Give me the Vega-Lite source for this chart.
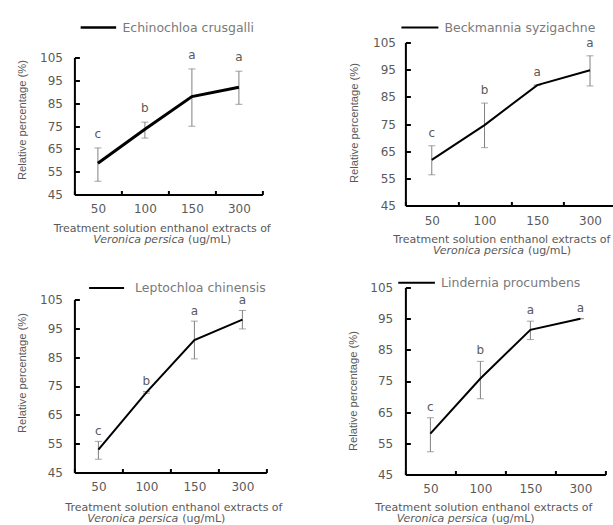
{
  "$schema": "https://vega.github.io/schema/vega-lite/v6.json",
  "autosize": {"type": "pad"},
  "padding": {"left": 15.4, "top": 7.5, "right": 0, "bottom": 0},
  "background": "white",
  "config": {
    "view": {"stroke": null},
    "axis": {"domainColor": "#000000", "domainWidth": 2, "tickColor": "#000000", "tickWidth": 2, "labelColor": "#595959", "labelFont": "DejaVu Sans", "labelFontSize": 12, "titleColor": "#595959", "titleFont": "DejaVu Sans", "titleFontSize": 11, "titleFontWeight": "normal", "grid": false},
    "legend": {"padding": 0, "labelFont": "DejaVu Sans", "labelFontSize": 12.5, "labelColor": "#7a7a7a", "symbolType": "stroke", "orient": "none"},
    "text": {"font": "DejaVu Sans", "fontSize": 12, "color": "#595959", "baseline": "middle"}
  },
  "resolve": {"scale": {"color": "independent"}},
  "datasets": {
    "d": [
      {"sp": "Echinochloa crusgalli", "conc": "50", "v": 58.7, "lo": 50.8, "hi": 65.4, "lab": "c"},
      {"sp": "Echinochloa crusgalli", "conc": "100", "v": 73.6, "lo": 69.7, "hi": 76.7, "lab": "b"},
      {"sp": "Echinochloa crusgalli", "conc": "150", "v": 87.9, "lo": 74.9, "hi": 100, "lab": "a"},
      {"sp": "Echinochloa crusgalli", "conc": "300", "v": 92, "lo": 84.5, "hi": 99, "lab": "a"},
      {"sp": "Beckmannia syzigachne", "conc": "50", "v": 61.8, "lo": 56.3, "hi": 67.0, "lab": "c"},
      {"sp": "Beckmannia syzigachne", "conc": "100", "v": 74.6, "lo": 66.3, "hi": 82.7, "lab": "b"},
      {"sp": "Beckmannia syzigachne", "conc": "150", "v": 89.3, "lo": 89.3, "hi": 89.3, "lab": "a"},
      {"sp": "Beckmannia syzigachne", "conc": "300", "v": 94.8, "lo": 89.0, "hi": 100.1, "lab": "a"},
      {"sp": "Leptochloa chinensis", "conc": "50", "v": 52.9, "lo": 49.6, "hi": 55.8, "lab": "c"},
      {"sp": "Leptochloa chinensis", "conc": "100", "v": 72.8, "lo": 72.5, "hi": 73.1, "lab": "b"},
      {"sp": "Leptochloa chinensis", "conc": "150", "v": 90.9, "lo": 84.4, "hi": 97.5, "lab": "a"},
      {"sp": "Leptochloa chinensis", "conc": "300", "v": 98.0, "lo": 94.8, "hi": 101.2, "lab": "a"},
      {"sp": "Lindernia procumbens", "conc": "50", "v": 58.1, "lo": 52.3, "hi": 63.2, "lab": "c"},
      {"sp": "Lindernia procumbens", "conc": "100", "v": 75.8, "lo": 69.3, "hi": 81.3, "lab": "b"},
      {"sp": "Lindernia procumbens", "conc": "150", "v": 91.4, "lo": 88.3, "hi": 94.2, "lab": "a"},
      {"sp": "Lindernia procumbens", "conc": "300", "v": 95.0, "lo": 95.0, "hi": 95.0, "lab": "a"}
    ]
  },
  "concat": [
    {"width": 0, "height": 0, "data": {"values": []}, "mark": "point"},
    {
      "width": 188, "height": 152,
      "data": {"name": "d"},
      "transform": [{"filter": "datum.sp === 'Echinochloa crusgalli'"}],
      "resolve": {"axis": {"x": "independent"}},
      "layer": [
        {"mark": {"type": "rule", "color": "#7f7f7f", "strokeWidth": 1},
         "encoding": {
           "x": {"field": "conc", "type": "ordinal", "sort": null, "scale": {"type": "band", "domain": ["50", "100", "150", "300"], "paddingInner": 0, "paddingOuter": 0}, "axis": {"orient": "bottom", "domain": false, "ticks": false, "labels": false, "title": "Veronica persica", "titleFontStyle": "italic", "titleAlign": "right", "titleBaseline": "middle", "titleAngle": 0, "titleX": 109.3, "titleY": 45}},
           "y": {"field": "lo", "type": "quantitative", "scale": {"domain": [45, 105], "range": [152, 15], "nice": false, "zero": false}, "axis": {"values": [45, 55, 65, 75, 85, 95, 105], "tickSize": -5, "labelPadding": 17, "title": "Relative percentage (%)", "titleFont": "Liberation Sans", "titleFontSize": 11.2, "titleAngle": 270, "titleAlign": "center", "titleBaseline": "middle", "titleX": -52.2, "titleY": 77}},
           "y2": {"field": "hi"}}},
        {"mark": {"type": "tick", "color": "#7f7f7f", "size": 7, "thickness": 1},
         "encoding": {
           "x": {"field": "conc", "type": "ordinal", "sort": null, "scale": {"type": "band", "domain": ["50", "100", "150", "300"], "paddingInner": 0, "paddingOuter": 0}, "axis": null},
           "y": {"field": "lo", "type": "quantitative", "scale": {"domain": [45, 105], "range": [152, 15], "nice": false, "zero": false}, "axis": {"values": [45, 55, 65, 75, 85, 95, 105], "tickSize": -5, "labelPadding": 17, "title": "Relative percentage (%)", "titleFont": "Liberation Sans", "titleFontSize": 11.2, "titleAngle": 270, "titleAlign": "center", "titleBaseline": "middle", "titleX": -52.2, "titleY": 77}}}},
        {"mark": {"type": "tick", "color": "#7f7f7f", "size": 7, "thickness": 1},
         "encoding": {
           "x": {"field": "conc", "type": "ordinal", "sort": null, "scale": {"type": "band", "domain": ["50", "100", "150", "300"], "paddingInner": 0, "paddingOuter": 0}, "axis": null},
           "y": {"field": "hi", "type": "quantitative", "scale": {"domain": [45, 105], "range": [152, 15], "nice": false, "zero": false}, "axis": {"values": [45, 55, 65, 75, 85, 95, 105], "tickSize": -5, "labelPadding": 17, "title": "Relative percentage (%)", "titleFont": "Liberation Sans", "titleFontSize": 11.2, "titleAngle": 270, "titleAlign": "center", "titleBaseline": "middle", "titleX": -52.2, "titleY": 77}}}},
        {"mark": {"type": "line", "strokeWidth": 3},
         "encoding": {
           "x": {"field": "conc", "type": "ordinal", "sort": null, "scale": {"type": "band", "domain": ["50", "100", "150", "300"], "paddingInner": 0, "paddingOuter": 0}, "axis": {"orient": "bottom", "labelAngle": 0, "tickBand": "extent", "tickSize": -4, "labelPadding": 18, "labelBaseline": "middle", "title": "Treatment solution enthanol extracts of", "titleAlign": "center", "titleBaseline": "middle", "titleAngle": 0, "titleX": 87.3, "titleY": 34}},
           "y": {"field": "v", "type": "quantitative", "scale": {"domain": [45, 105], "range": [152, 15], "nice": false, "zero": false}, "axis": {"values": [45, 55, 65, 75, 85, 95, 105], "tickSize": -5, "labelPadding": 17, "title": "Relative percentage (%)", "titleFont": "Liberation Sans", "titleFontSize": 11.2, "titleAngle": 270, "titleAlign": "center", "titleBaseline": "middle", "titleX": -52.2, "titleY": 77}},
           "color": {"field": "sp", "type": "nominal", "scale": {"range": ["#000000"]}, "legend": {"title": null, "symbolSize": 1260, "symbolStrokeWidth": 2.5, "labelOffset": 5, "legendX": 5, "legendY": -34}}}},
        {"mark": {"type": "text", "dy": -14},
         "encoding": {
           "x": {"field": "conc", "type": "ordinal", "sort": null, "scale": {"type": "band", "domain": ["50", "100", "150", "300"], "paddingInner": 0, "paddingOuter": 0}, "axis": {"orient": "bottom", "domain": false, "ticks": false, "labels": false, "title": "(ug/mL)", "titleAlign": "left", "titleBaseline": "middle", "titleAngle": 0, "titleX": 113, "titleY": 45}},
           "y": {"field": "hi", "type": "quantitative", "scale": {"domain": [45, 105], "range": [152, 15], "nice": false, "zero": false}, "axis": {"values": [45, 55, 65, 75, 85, 95, 105], "tickSize": -5, "labelPadding": 17, "title": "Relative percentage (%)", "titleFont": "Liberation Sans", "titleFontSize": 11.2, "titleAngle": 270, "titleAlign": "center", "titleBaseline": "middle", "titleX": -52.2, "titleY": 77}},
           "text": {"field": "lab"}}}
      ]
    },
    {"width": 139, "height": 0, "data": {"values": []}, "mark": "point"},
    {
      "width": 211, "height": 163,
      "data": {"name": "d"},
      "transform": [{"filter": "datum.sp === 'Beckmannia syzigachne'"}],
      "resolve": {"axis": {"x": "independent"}},
      "layer": [
        {"mark": {"type": "rule", "color": "#7f7f7f", "strokeWidth": 1},
         "encoding": {
           "x": {"field": "conc", "type": "ordinal", "sort": null, "scale": {"type": "band", "domain": ["50", "100", "150", "300"], "paddingInner": 0, "paddingOuter": 0}, "axis": {"orient": "bottom", "domain": false, "ticks": false, "labels": false, "title": "Veronica persica", "titleFontStyle": "italic", "titleAlign": "right", "titleBaseline": "middle", "titleAngle": 0, "titleX": 118, "titleY": 45.3}},
           "y": {"field": "lo", "type": "quantitative", "scale": {"domain": [45, 105], "nice": false, "zero": false}, "axis": {"values": [45, 55, 65, 75, 85, 95, 105], "tickSize": -5, "labelPadding": 15, "title": "Relative percentage (%)", "titleFont": "Liberation Sans", "titleFontSize": 11.2, "titleAngle": 270, "titleAlign": "center", "titleBaseline": "middle", "titleX": -51, "titleY": 80}},
           "y2": {"field": "hi"}}},
        {"mark": {"type": "tick", "color": "#7f7f7f", "size": 7, "thickness": 1},
         "encoding": {
           "x": {"field": "conc", "type": "ordinal", "sort": null, "scale": {"type": "band", "domain": ["50", "100", "150", "300"], "paddingInner": 0, "paddingOuter": 0}, "axis": null},
           "y": {"field": "lo", "type": "quantitative", "scale": {"domain": [45, 105], "nice": false, "zero": false}, "axis": {"values": [45, 55, 65, 75, 85, 95, 105], "tickSize": -5, "labelPadding": 15, "title": "Relative percentage (%)", "titleFont": "Liberation Sans", "titleFontSize": 11.2, "titleAngle": 270, "titleAlign": "center", "titleBaseline": "middle", "titleX": -51, "titleY": 80}}}},
        {"mark": {"type": "tick", "color": "#7f7f7f", "size": 7, "thickness": 1},
         "encoding": {
           "x": {"field": "conc", "type": "ordinal", "sort": null, "scale": {"type": "band", "domain": ["50", "100", "150", "300"], "paddingInner": 0, "paddingOuter": 0}, "axis": null},
           "y": {"field": "hi", "type": "quantitative", "scale": {"domain": [45, 105], "nice": false, "zero": false}, "axis": {"values": [45, 55, 65, 75, 85, 95, 105], "tickSize": -5, "labelPadding": 15, "title": "Relative percentage (%)", "titleFont": "Liberation Sans", "titleFontSize": 11.2, "titleAngle": 270, "titleAlign": "center", "titleBaseline": "middle", "titleX": -51, "titleY": 80}}}},
        {"mark": {"type": "line", "strokeWidth": 2},
         "encoding": {
           "x": {"field": "conc", "type": "ordinal", "sort": null, "scale": {"type": "band", "domain": ["50", "100", "150", "300"], "paddingInner": 0, "paddingOuter": 0}, "axis": {"orient": "bottom", "labelAngle": 0, "tickBand": "extent", "tickSize": -4, "labelPadding": 19, "labelBaseline": "middle", "title": "Treatment solution enthanol extracts of", "titleAlign": "center", "titleBaseline": "middle", "titleAngle": 0, "titleX": 96, "titleY": 34.3}},
           "y": {"field": "v", "type": "quantitative", "scale": {"domain": [45, 105], "nice": false, "zero": false}, "axis": {"values": [45, 55, 65, 75, 85, 95, 105], "tickSize": -5, "labelPadding": 15, "title": "Relative percentage (%)", "titleFont": "Liberation Sans", "titleFontSize": 11.2, "titleAngle": 270, "titleAlign": "center", "titleBaseline": "middle", "titleX": -51, "titleY": 80}},
           "color": {"field": "sp", "type": "nominal", "scale": {"range": ["#000000"]}, "legend": {"title": null, "symbolSize": 1369, "symbolStrokeWidth": 2, "labelOffset": 5, "legendX": -5, "legendY": -34.5}}}},
        {"mark": {"type": "text", "dy": -13},
         "encoding": {
           "x": {"field": "conc", "type": "ordinal", "sort": null, "scale": {"type": "band", "domain": ["50", "100", "150", "300"], "paddingInner": 0, "paddingOuter": 0}, "axis": {"orient": "bottom", "domain": false, "ticks": false, "labels": false, "title": "(ug/mL)", "titleAlign": "left", "titleBaseline": "middle", "titleAngle": 0, "titleX": 122, "titleY": 45.3}},
           "y": {"field": "hi", "type": "quantitative", "scale": {"domain": [45, 105], "nice": false, "zero": false}, "axis": {"values": [45, 55, 65, 75, 85, 95, 105], "tickSize": -5, "labelPadding": 15, "title": "Relative percentage (%)", "titleFont": "Liberation Sans", "titleFontSize": 11.2, "titleAngle": 270, "titleAlign": "center", "titleBaseline": "middle", "titleX": -51, "titleY": 80}},
           "text": {"field": "lab"}}}
      ]
    },

    {"width": 16, "height": 0, "data": {"values": []}, "mark": "point"},
    {
      "width": 192, "height": 185,
      "data": {"name": "d"},
      "transform": [{"filter": "datum.sp === 'Leptochloa chinensis'"}],
      "resolve": {"axis": {"x": "independent"}},
      "layer": [
        {"mark": {"type": "rule", "color": "#7f7f7f", "strokeWidth": 1},
         "encoding": {
           "x": {"field": "conc", "type": "ordinal", "sort": null, "scale": {"type": "band", "domain": ["50", "100", "150", "300"], "paddingInner": 0, "paddingOuter": 0}, "axis": {"orient": "bottom", "domain": false, "ticks": false, "labels": false, "title": "Veronica persica", "titleFontStyle": "italic", "titleAlign": "right", "titleBaseline": "middle", "titleAngle": 0, "titleX": 103.4, "titleY": 46.3}},
           "y": {"field": "lo", "type": "quantitative", "scale": {"domain": [45, 105], "range": [185, 12], "nice": false, "zero": false}, "axis": {"values": [45, 55, 65, 75, 85, 95, 105], "tickSize": -5, "labelPadding": 17, "title": "Relative percentage (%)", "titleFont": "Liberation Sans", "titleFontSize": 11.2, "titleAngle": 270, "titleAlign": "center", "titleBaseline": "middle", "titleX": -52, "titleY": 85}},
           "y2": {"field": "hi"}}},
        {"mark": {"type": "tick", "color": "#7f7f7f", "size": 7, "thickness": 1},
         "encoding": {
           "x": {"field": "conc", "type": "ordinal", "sort": null, "scale": {"type": "band", "domain": ["50", "100", "150", "300"], "paddingInner": 0, "paddingOuter": 0}, "axis": null},
           "y": {"field": "lo", "type": "quantitative", "scale": {"domain": [45, 105], "range": [185, 12], "nice": false, "zero": false}, "axis": {"values": [45, 55, 65, 75, 85, 95, 105], "tickSize": -5, "labelPadding": 17, "title": "Relative percentage (%)", "titleFont": "Liberation Sans", "titleFontSize": 11.2, "titleAngle": 270, "titleAlign": "center", "titleBaseline": "middle", "titleX": -52, "titleY": 85}}}},
        {"mark": {"type": "tick", "color": "#7f7f7f", "size": 7, "thickness": 1},
         "encoding": {
           "x": {"field": "conc", "type": "ordinal", "sort": null, "scale": {"type": "band", "domain": ["50", "100", "150", "300"], "paddingInner": 0, "paddingOuter": 0}, "axis": null},
           "y": {"field": "hi", "type": "quantitative", "scale": {"domain": [45, 105], "range": [185, 12], "nice": false, "zero": false}, "axis": {"values": [45, 55, 65, 75, 85, 95, 105], "tickSize": -5, "labelPadding": 17, "title": "Relative percentage (%)", "titleFont": "Liberation Sans", "titleFontSize": 11.2, "titleAngle": 270, "titleAlign": "center", "titleBaseline": "middle", "titleX": -52, "titleY": 85}}}},
        {"mark": {"type": "line", "strokeWidth": 2},
         "encoding": {
           "x": {"field": "conc", "type": "ordinal", "sort": null, "scale": {"type": "band", "domain": ["50", "100", "150", "300"], "paddingInner": 0, "paddingOuter": 0}, "axis": {"orient": "bottom", "labelAngle": 0, "tickBand": "extent", "tickSize": -4, "labelPadding": 18, "labelBaseline": "middle", "title": "Treatment solution enthanol extracts of", "titleAlign": "center", "titleBaseline": "middle", "titleAngle": 0, "titleX": 99, "titleY": 35.3}},
           "y": {"field": "v", "type": "quantitative", "scale": {"domain": [45, 105], "range": [185, 12], "nice": false, "zero": false}, "axis": {"values": [45, 55, 65, 75, 85, 95, 105], "tickSize": -5, "labelPadding": 17, "title": "Relative percentage (%)", "titleFont": "Liberation Sans", "titleFontSize": 11.2, "titleAngle": 270, "titleAlign": "center", "titleBaseline": "middle", "titleX": -52, "titleY": 85}},
           "color": {"field": "sp", "type": "nominal", "scale": {"range": ["#000000"]}, "legend": {"title": null, "symbolSize": 1225, "symbolStrokeWidth": 2, "labelOffset": 10, "legendX": 13.7, "legendY": -17.9}}}},
        {"mark": {"type": "text", "dy": -10},
         "encoding": {
           "x": {"field": "conc", "type": "ordinal", "sort": null, "scale": {"type": "band", "domain": ["50", "100", "150", "300"], "paddingInner": 0, "paddingOuter": 0}, "axis": {"orient": "bottom", "domain": false, "ticks": false, "labels": false, "title": "(ug/mL)", "titleAlign": "left", "titleBaseline": "middle", "titleAngle": 0, "titleX": 107.4, "titleY": 46.3}},
           "y": {"field": "hi", "type": "quantitative", "scale": {"domain": [45, 105], "range": [185, 12], "nice": false, "zero": false}, "axis": {"values": [45, 55, 65, 75, 85, 95, 105], "tickSize": -5, "labelPadding": 17, "title": "Relative percentage (%)", "titleFont": "Liberation Sans", "titleFontSize": 11.2, "titleAngle": 270, "titleAlign": "center", "titleBaseline": "middle", "titleX": -52, "titleY": 85}},
           "text": {"field": "lab"}}}
      ]
    },
    {"width": 130, "height": 0, "data": {"values": []}, "mark": "point"},
    {
      "width": 200, "height": 187,
      "data": {"name": "d"},
      "transform": [{"filter": "datum.sp === 'Lindernia procumbens'"}],
      "resolve": {"axis": {"x": "independent"}},
      "layer": [
        {"mark": {"type": "rule", "color": "#7f7f7f", "strokeWidth": 1},
         "encoding": {
           "x": {"field": "conc", "type": "ordinal", "sort": null, "scale": {"type": "band", "domain": ["50", "100", "150", "300"], "paddingInner": 0, "paddingOuter": 0}, "axis": {"orient": "bottom", "domain": false, "ticks": false, "labels": false, "title": "Veronica persica", "titleFontStyle": "italic", "titleAlign": "right", "titleBaseline": "middle", "titleAngle": 0, "titleX": 81.7, "titleY": 44.3}},
           "y": {"field": "lo", "type": "quantitative", "scale": {"domain": [45, 105], "nice": false, "zero": false}, "axis": {"values": [45, 55, 65, 75, 85, 95, 105], "tickSize": -5, "labelPadding": 17.7, "title": "Relative percentage (%)", "titleFont": "Liberation Sans", "titleFontSize": 11.2, "titleAngle": 270, "titleAlign": "center", "titleBaseline": "middle", "titleX": -52, "titleY": 103}},
           "y2": {"field": "hi"}}},
        {"mark": {"type": "tick", "color": "#7f7f7f", "size": 7, "thickness": 1},
         "encoding": {
           "x": {"field": "conc", "type": "ordinal", "sort": null, "scale": {"type": "band", "domain": ["50", "100", "150", "300"], "paddingInner": 0, "paddingOuter": 0}, "axis": null},
           "y": {"field": "lo", "type": "quantitative", "scale": {"domain": [45, 105], "nice": false, "zero": false}, "axis": {"values": [45, 55, 65, 75, 85, 95, 105], "tickSize": -5, "labelPadding": 17.7, "title": "Relative percentage (%)", "titleFont": "Liberation Sans", "titleFontSize": 11.2, "titleAngle": 270, "titleAlign": "center", "titleBaseline": "middle", "titleX": -52, "titleY": 103}}}},
        {"mark": {"type": "tick", "color": "#7f7f7f", "size": 7, "thickness": 1},
         "encoding": {
           "x": {"field": "conc", "type": "ordinal", "sort": null, "scale": {"type": "band", "domain": ["50", "100", "150", "300"], "paddingInner": 0, "paddingOuter": 0}, "axis": null},
           "y": {"field": "hi", "type": "quantitative", "scale": {"domain": [45, 105], "nice": false, "zero": false}, "axis": {"values": [45, 55, 65, 75, 85, 95, 105], "tickSize": -5, "labelPadding": 17.7, "title": "Relative percentage (%)", "titleFont": "Liberation Sans", "titleFontSize": 11.2, "titleAngle": 270, "titleAlign": "center", "titleBaseline": "middle", "titleX": -52, "titleY": 103}}}},
        {"mark": {"type": "line", "strokeWidth": 2},
         "encoding": {
           "x": {"field": "conc", "type": "ordinal", "sort": null, "scale": {"type": "band", "domain": ["50", "100", "150", "300"], "paddingInner": 0, "paddingOuter": 0}, "axis": {"orient": "bottom", "labelAngle": 0, "tickBand": "extent", "tickSize": -4, "labelPadding": 18, "labelBaseline": "middle", "title": "Treatment solution enthanol extracts of", "titleAlign": "center", "titleBaseline": "middle", "titleAngle": 0, "titleX": 78, "titleY": 33.3}},
           "y": {"field": "v", "type": "quantitative", "scale": {"domain": [45, 105], "nice": false, "zero": false}, "axis": {"values": [45, 55, 65, 75, 85, 95, 105], "tickSize": -5, "labelPadding": 17.7, "title": "Relative percentage (%)", "titleFont": "Liberation Sans", "titleFontSize": 11.2, "titleAngle": 270, "titleAlign": "center", "titleBaseline": "middle", "titleX": -52, "titleY": 103}},
           "color": {"field": "sp", "type": "nominal", "scale": {"range": ["#000000"]}, "legend": {"title": null, "symbolSize": 1344, "symbolStrokeWidth": 2, "labelOffset": 5, "legendX": -8.3, "legendY": -24.3}}}},
        {"mark": {"type": "text", "dy": -11},
         "encoding": {
           "x": {"field": "conc", "type": "ordinal", "sort": null, "scale": {"type": "band", "domain": ["50", "100", "150", "300"], "paddingInner": 0, "paddingOuter": 0}, "axis": {"orient": "bottom", "domain": false, "ticks": false, "labels": false, "title": "(ug/mL)", "titleAlign": "left", "titleBaseline": "middle", "titleAngle": 0, "titleX": 85.7, "titleY": 44.3}},
           "y": {"field": "hi", "type": "quantitative", "scale": {"domain": [45, 105], "nice": false, "zero": false}, "axis": {"values": [45, 55, 65, 75, 85, 95, 105], "tickSize": -5, "labelPadding": 17.7, "title": "Relative percentage (%)", "titleFont": "Liberation Sans", "titleFontSize": 11.2, "titleAngle": 270, "titleAlign": "center", "titleBaseline": "middle", "titleX": -52, "titleY": 103}},
           "text": {"field": "lab"}}}
      ]
    }
  ],
  "columns": 4, "spacing": {"row": 82, "column": 0}, "bounds": "flush", "align": {"row": "each", "column": "none"}
}
